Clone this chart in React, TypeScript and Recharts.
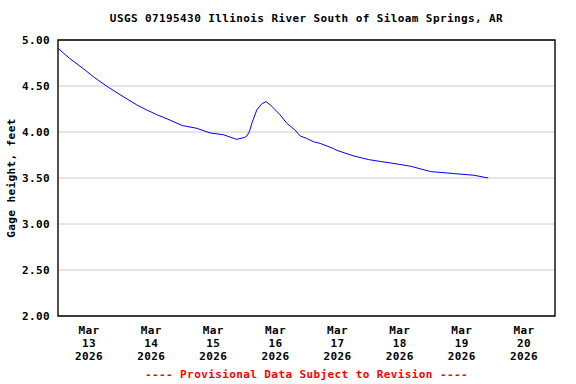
import React from 'react';
import { LineChart, Line, XAxis, YAxis, CartesianGrid, ReferenceArea } from 'recharts';

// hours since Mar 13 2026 00:00
const hours = [0, 4.5, 9.7, 14.2, 18.7, 24, 30.4, 34.2, 38.1, 43.2, 48, 53.6, 58.7, 63.9, 69, 72, 72.9, 73.9, 74.9, 76.8, 78.7, 80.4, 82.6, 85.8, 88.4, 91.6, 93.6, 96.1, 98.7, 101.3, 106.4, 107.8, 114.2, 120, 124.5, 128.4, 136.2, 143.9, 152.9, 160.7, 166.2];
const gage = [4.91, 4.80, 4.69, 4.59, 4.50, 4.405, 4.295, 4.24, 4.19, 4.13, 4.07, 4.04, 3.99, 3.97, 3.92, 3.94, 3.955, 4.00, 4.095, 4.24, 4.306, 4.33, 4.28, 4.186, 4.095, 4.02, 3.956, 3.93, 3.894, 3.876, 3.82, 3.80, 3.74, 3.70, 3.68, 3.664, 3.628, 3.57, 3.548, 3.53, 3.50];

const dayLines = [0, 24, 48, 72, 96, 120, 144, 168, 192];
const labelHours = [12, 36, 60, 84, 108, 132, 156, 180];
const labelDays = ['13', '14', '15', '16', '17', '18', '19', '20'];
const labelMonth = 'Mar';
const labelYear = '2026';
const yTicks = [2, 2.5, 3, 3.5, 4, 4.5, 5];

const title = 'USGS 07195430 Illinois River South of Siloam Springs, AR';
const yTitle = 'Gage height, feet';
const footer = '---- Provisional Data Subject to Revision ----';

const data = hours.map((h, i) => ({ h, v: gage[i] }));

const FONT = '"DejaVu Sans Mono", "Liberation Mono", monospace';
const txt = { fontFamily: FONT, fontWeight: 700, fontSize: 11, letterSpacing: 0.4 } as const;

const XLabel = (props: any) => {
  const { x, y, payload } = props;
  const idx = labelHours.indexOf(payload.value);
  return (
    <text x={x} textAnchor="middle" fill="#000" style={txt}>
      <tspan x={x} y={y + 18}>{labelMonth}</tspan>
      <tspan x={x} y={y + 31}>{labelDays[idx]}</tspan>
      <tspan x={x} y={y + 44}>{labelYear}</tspan>
    </text>
  );
};

const YLabel = (props: any) => {
  const { x, y, payload } = props;
  return (
    <text x={x} y={y + 4} textAnchor="end" fill="#000" style={txt}>
      {payload.value.toFixed(2)}
    </text>
  );
};

export default function App() {
  return (
    <div style={{ position: 'absolute', left: 0, top: 0, width: 576, height: 384, background: '#fff' }}>
      <LineChart width={576} height={384} data={data} margin={{ top: 40, right: 21, bottom: 0, left: 0 }}>
        <CartesianGrid xAxisId="grid" stroke="#cccccc" strokeWidth={1} />
        <XAxis xAxisId="grid" dataKey="h" type="number" domain={[0, 192]} ticks={dayLines} tick={false} axisLine={false} tickLine={false} height={0} />
        <XAxis xAxisId="lab" dataKey="h" type="number" domain={[0, 192]} ticks={labelHours} tick={<XLabel />} axisLine={false} tickLine={false} tickSize={0} tickMargin={0} height={68} interval={0} />
        <YAxis type="number" domain={[2, 5]} ticks={yTicks} tick={<YLabel />} axisLine={false} tickLine={false} tickSize={0} tickMargin={8} width={58} interval={0} />
        <ReferenceArea xAxisId="grid" x1={0} x2={192} y1={2} y2={5} fill="none" stroke="#000" strokeWidth={1.3} ifOverflow="visible" />
        <Line xAxisId="grid" dataKey="v" type="linear" stroke="#0000ff" strokeWidth={1} dot={false} isAnimationActive={false} />
      </LineChart>
      <div style={{ position: 'absolute', left: 58, width: 497, top: 12, textAlign: 'center', ...txt, lineHeight: '14px', color: '#000', whiteSpace: 'nowrap' }}>{title}</div>
      <div style={{ position: 'absolute', left: 58, width: 497, top: 368, textAlign: 'center', ...txt, lineHeight: '14px', color: '#ff0000', whiteSpace: 'nowrap' }}>{footer}</div>
      <div style={{ position: 'absolute', left: 12 - 100, width: 200, top: 178 - 7, textAlign: 'center', ...txt, lineHeight: '14px', color: '#000', transform: 'rotate(-90deg)', whiteSpace: 'nowrap' }}>{yTitle}</div>
    </div>
  );
}
